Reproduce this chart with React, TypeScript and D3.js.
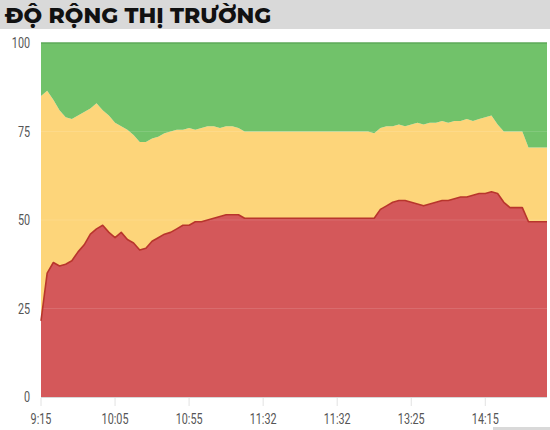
import React from 'react';
import * as d3 from 'd3';

// labels under the x axis, one every 12 samples
const timeLabels = ['9:15', '10:05', '10:55', '11:32', '11:32', '13:25', '14:15'];
const yTicks = [0, 25, 50, 75, 100];

// % of stocks per sample (red = tang, yellow = dung gia, green = giam)
const advancing = [
  21.5, 35, 38, 37, 37.5, 38.5, 41, 43, 46, 47.5, 48.5, 46.5, 45, 46.5, 44.5, 43.5, 41.5, 42, 44, 45,
  46, 46.5, 47.5, 48.5, 48.5, 49.5, 49.5, 50, 50.5, 51, 51.5, 51.5, 51.5, 50.5, 50.5, 50.5, 50.5, 50.5, 50.5, 50.5,
  50.5, 50.5, 50.5, 50.5, 50.5, 50.5, 50.5, 50.5, 50.5, 50.5, 50.5, 50.5, 50.5, 50.5, 50.5, 53, 54, 55, 55.5, 55.5,
  55, 54.5, 54, 54.5, 55, 55.5, 55.5, 56, 56.5, 56.5, 57, 57.5, 57.5, 58, 57.5, 55, 53.5, 53.5, 53.5, 49.5,
  49.5, 49.5, 49.5,
];
const unchanged = [
  63.5, 51.5, 46, 44, 41.5, 40, 38.5, 37.5, 35.5, 35.5, 32.5, 33, 32.5, 30, 31, 30.5, 30.5, 30, 29, 28.5,
  28.5, 28.5, 28, 27, 27.5, 26, 26.5, 26.5, 26, 25, 25, 25, 24.5, 24.5, 24.5, 24.5, 24.5, 24.5, 24.5, 24.5,
  24.5, 24.5, 24.5, 24.5, 24.5, 24.5, 24.5, 24.5, 24.5, 24.5, 24.5, 24.5, 24.5, 24.5, 24, 23, 22.5, 21.5, 21.5, 21,
  22, 23, 23, 23, 22.5, 22.5, 22, 22, 21.5, 22, 21, 21, 21.5, 21.5, 19.5, 20, 21.5, 21.5, 21.5, 21,
  21, 21, 21,
];
const declining = [
  15, 13.5, 16, 19, 21, 21.5, 20.5, 19.5, 18.5, 17, 19, 20.5, 22.5, 23.5, 24.5, 26, 28, 28, 27, 26.5,
  25.5, 25, 24.5, 24.5, 24, 24.5, 24, 23.5, 23.5, 24, 23.5, 23.5, 24, 25, 25, 25, 25, 25, 25, 25,
  25, 25, 25, 25, 25, 25, 25, 25, 25, 25, 25, 25, 25, 25, 25.5, 24, 23.5, 23.5, 23, 23.5,
  23, 22.5, 23, 22.5, 22.5, 22, 22.5, 22, 22, 21.5, 22, 21.5, 21, 20.5, 23, 25, 25, 25, 25, 29.5,
  29.5, 29.5, 29.5,
];

const colors: Record<string, string> = {
  advancing: '#d4585a',
  unchanged: '#fdd57a',
  declining: '#71c26a',
};

export default function App() {
  const width = 550;
  const height = 430;
  const margin = { top: 43, right: 3, bottom: 33, left: 41 };
  const n = advancing.length;
  const step = 12;

  const x = d3.scaleLinear().domain([0, n - 1]).range([margin.left, width - margin.right]);
  const y = d3.scaleLinear().domain([0, 100]).range([height - margin.bottom, margin.top]);

  const rows = advancing.map((a, i) => ({
    i,
    advancing: a,
    unchanged: unchanged[i],
    declining: declining[i],
  }));
  const series = d3.stack<any>().keys(['advancing', 'unchanged', 'declining'])(rows);

  const area = d3.area<any>()
    .x(d => x(d.data.i))
    .y0(d => y(d[0]))
    .y1(d => y(d[1]));
  const topLine = d3.line<any>()
    .x(d => x(d.data.i))
    .y(d => y(d[1]));

  const condensed = 'Roboto, "DejaVu Sans", sans-serif';

  return (
    <svg width={width} height={height} style={{ position: 'absolute', left: 0, top: 0, background: '#fff' }}>
      <rect x={0} y={0} width={width} height={29} fill="#d9d9d9" />
      <text x={5} y={23} fontFamily='Montserrat, "Open Sans", "Noto Sans", sans-serif' fontWeight={800}
        fontSize={22} fill="#111">ĐỘ RỘNG THỊ TRƯỜNG</text>

      {series.map(s => (
        <path key={s.key} d={area(s) || ''} fill={colors[s.key]} />
      ))}
      {yTicks.filter(t => t > 0 && t < 100).map(t => (
        <line key={t} x1={margin.left} x2={width - margin.right} y1={y(t)} y2={y(t)}
          stroke="#fff" strokeOpacity={0.12} />
      ))}
      <path d={topLine(series[0]) || ''} fill="none" stroke="#b8352c" strokeWidth={1.6} strokeLinejoin="round" />
      <line x1={margin.left} x2={width - margin.right} y1={y(100)} y2={y(100)} stroke="#5da859" strokeWidth={1.5} />
      <line x1={margin.left} x2={width - margin.right} y1={y(0) + 0.5} y2={y(0) + 0.5} stroke="#d8d8d8" />

      {yTicks.map(t => (
        <text key={t} transform={`translate(30,${y(t) + 5}) scale(0.72,1)`} textAnchor="end"
          fontFamily={condensed} fontSize={15} fill="#555">{t}</text>
      ))}

      {timeLabels.map((lab, k) => (
        <g key={k} transform={`translate(${x(k * step)},0)`}>
          <line y1={y(0) + 1} y2={y(0) + 9} stroke="#e2e2e2" />
          <text transform={`translate(0,${height - 6}) scale(0.72,1)`} textAnchor="middle"
            fontFamily={condensed} fontSize={15} fill="#555">{lab}</text>
        </g>
      ))}

      <rect x={493} y={427} width={57} height={3} fill="#d9d9d9" />
    </svg>
  );
}
